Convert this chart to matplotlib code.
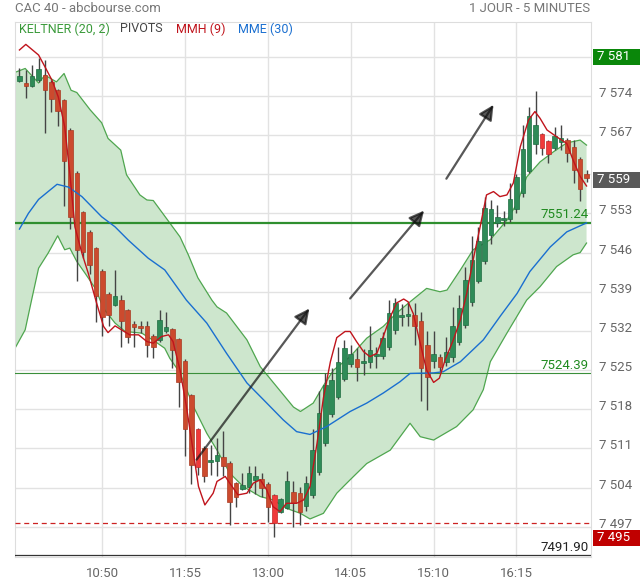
import matplotlib
matplotlib.use("Agg")
import matplotlib.pyplot as plt
from matplotlib.patches import Polygon, Rectangle
from matplotlib.transforms import blended_transform_factory, ScaledTranslation

plt.rcParams['font.family'] = ['Roboto', 'DejaVu Sans']

# Bougies Heikin-Ashi 5 minutes (index 0 = 9:45)
opens = [7576.7, 7576.3, 7575.8, 7576.8, 7577.8, 7576.5, 7575.0, 7573.25, 7567.9, 7560.2,
         7553.25, 7549.7, 7546.8, 7542.7, 7538.6, 7536.6, 7537.5, 7535.75, 7533.25, 7532.9,
         7532.9, 7531.1, 7530.3, 7531.9, 7532.3, 7530.5, 7526.7, 7520.5, 7514.45, 7511.05,
         7508.5, 7508.7, 7509.4, 7508.4, 7504.8, 7503.7, 7504.1, 7505.4, 7505.6, 7504.7,
         7502.6, 7499.7, 7500.3, 7503.2, 7503.1, 7500.8, 7502.7, 7506.7, 7512.0, 7517.2,
         7520.2, 7523.4, 7526.1, 7527.0, 7526.2, 7526.4, 7527.5, 7527.6, 7529.15, 7532.2,
         7534.55, 7534.6, 7534.85, 7533.8, 7529.55, 7526.6, 7527.25, 7526.4, 7527.35, 7530.05,
         7533.05, 7537.1, 7540.9, 7544.5, 7549.2, 7551.2, 7551.8, 7552.0, 7553.7, 7556.6,
         7560.5, 7565.4, 7567.1, 7565.9, 7564.75, 7565.8, 7566.15, 7564.9, 7562.8, 7560.05]
highs = [7578.9, 7578.7, 7579.5, 7580.7, 7580.4, 7576.8, 7575.3, 7573.5, 7568.2, 7560.5,
         7553.5, 7550.0, 7547.0, 7543.0, 7538.9, 7542.9, 7538.4, 7536.0, 7533.8, 7533.8,
         7533.8, 7531.4, 7535.75, 7535.4, 7532.5, 7530.7, 7527.0, 7520.8, 7514.7, 7511.5,
         7511.6, 7512.8, 7514.1, 7508.7, 7505.0, 7506.6, 7507.8, 7507.8, 7506.6, 7505.0,
         7502.8, 7502.2, 7506.9, 7505.1, 7504.1, 7506.0, 7514.5, 7521.2, 7524.5, 7525.3,
         7529.1, 7530.4, 7529.5, 7528.9, 7528.7, 7532.9, 7529.2, 7531.8, 7537.5, 7537.8,
         7536.8, 7537.2, 7537.0, 7535.4, 7531.9, 7532.05, 7527.9, 7531.0, 7536.3, 7538.4,
         7543.5, 7548.9, 7550.5, 7556.0, 7555.4, 7554.5, 7553.5, 7558.4, 7560.0, 7568.8,
         7572.0, 7574.9, 7567.3, 7566.1, 7568.4, 7568.8, 7566.4, 7566.1, 7563.0, 7560.75]
lows = [7576.5, 7573.7, 7575.6, 7576.4, 7567.3, 7571.1, 7568.7, 7554.4, 7550.2, 7540.9,
        7545.0, 7542.1, 7533.55, 7531.1, 7532.9, 7536.4, 7529.2, 7529.8, 7529.2, 7531.7,
        7527.4, 7527.1, 7530.0, 7531.7, 7525.3, 7518.4, 7509.7, 7504.7, 7506.2, 7505.0,
        7506.3, 7506.0, 7506.0, 7497.4, 7500.6, 7503.5, 7503.0, 7502.9, 7502.4, 7497.8,
        7495.2, 7499.5, 7500.1, 7497.05, 7497.4, 7499.8, 7502.2, 7506.2, 7511.5, 7516.7,
        7519.8, 7523.0, 7525.5, 7523.1, 7524.1, 7525.3, 7525.3, 7527.0, 7528.5, 7531.5,
        7532.8, 7532.8, 7529.5, 7519.4, 7517.8, 7525.3, 7524.7, 7525.8, 7526.5, 7529.5,
        7532.5, 7536.5, 7540.5, 7544.0, 7547.5, 7550.6, 7550.75, 7551.5, 7553.0, 7556.0,
        7560.3, 7563.7, 7563.4, 7562.0, 7564.3, 7564.3, 7562.1, 7558.4, 7555.3, 7558.6]
closes = [7577.6, 7575.7, 7577.5, 7578.8, 7575.1, 7573.4, 7571.3, 7562.4, 7552.4, 7546.5,
          7546.05, 7543.8, 7538.3, 7534.45, 7534.9, 7538.25, 7533.8, 7531.0, 7532.65, 7532.6,
          7529.5, 7529.1, 7534.0, 7532.65, 7528.5, 7522.9, 7514.4, 7508.1, 7507.7, 7506.0,
          7508.9, 7509.8, 7507.8, 7501.5, 7502.4, 7504.4, 7506.6, 7506.0, 7503.9, 7500.45,
          7497.7, 7502.0, 7505.2, 7501.2, 7499.6, 7504.8, 7510.75, 7517.35, 7522.4, 7523.2,
          7526.5, 7528.9, 7527.8, 7525.5, 7526.6, 7528.6, 7527.7, 7530.7, 7535.2, 7536.9,
          7534.7, 7535.1, 7532.8, 7525.3, 7523.7, 7527.9, 7525.6, 7528.3, 7532.8, 7536.05,
          7541.1, 7544.7, 7548.1, 7553.9, 7553.7, 7552.4, 7552.2, 7555.5, 7559.55, 7564.45,
          7570.4, 7568.8, 7564.6, 7563.6, 7566.8, 7566.5, 7563.8, 7560.75, 7557.3, 7559.3]
# bougies rouge vif
bright_red = [28, 40, 82, 83]

# Keltner (20, 2) : bandes
ku_x = [-0.7, 0.9, 3.0, 4.0, 5.8, 7.0, 8.1, 9.0, 11.1, 12.9, 13.9, 15.9, 16.8, 18.9, 20.0,
        21.0, 22.1, 25.2, 26.5, 28.0, 30.2, 31.0, 32.5, 34.1, 35.7, 37.8, 40.4, 43.0, 44.1,
        46.1, 47.7, 49.3, 51.9, 54.5, 57.1, 59.2, 61.3, 63.9, 66.0, 67.1, 69.2, 71.2, 73.9,
        76.5, 78.1, 79.6, 81.7, 83.8, 85.9, 88.0, 89.0]
ku_y = [7578.2, 7578.9, 7576.3, 7577.7, 7576.5, 7578.0, 7575.0, 7574.6, 7571.5, 7569.2,
        7566.4, 7564.3, 7559.9, 7556.3, 7555.4, 7555.3, 7553.6, 7548.8, 7545.6, 7541.5,
        7537.5, 7536.3, 7535.2, 7532.8, 7530.4, 7525.6, 7522.0, 7518.4, 7517.6, 7519.1,
        7522.2, 7525.0, 7527.4, 7530.7, 7532.8, 7535.2, 7537.2, 7539.6, 7539.0, 7539.3,
        7542.9, 7546.5, 7548.3, 7551.8, 7554.8, 7559.5, 7562.2, 7564.0, 7565.6, 7566.1,
        7565.2]
kl_x = [-0.7, 0.9, 1.9, 3.0, 4.5, 6.0, 7.1, 7.9, 9.0, 10.3, 11.9, 13.2, 15.0, 16.6, 19.2,
        21.3, 22.8, 23.6, 25.2, 27.3, 29.4, 31.0, 33.0, 35.1, 37.8, 39.8, 41.9, 44.1, 45.6,
        47.7, 49.8, 51.9, 54.5, 58.2, 61.3, 62.9, 65.0, 68.6, 71.2, 72.8, 73.9, 76.5, 79.6,
        81.7, 84.3, 86.9, 88.0, 89.0]
kl_y = [7528.9, 7532.2, 7537.5, 7543.2, 7545.9, 7549.0, 7546.5, 7546.8, 7544.4, 7542.3,
        7539.6, 7536.0, 7533.4, 7531.9, 7531.6, 7530.1, 7528.9, 7527.1, 7524.5, 7518.5,
        7513.7, 7510.7, 7506.6, 7504.2, 7502.4, 7501.8, 7500.3, 7499.4, 7498.4, 7499.4,
        7503.0, 7505.4, 7508.3, 7510.7, 7515.5, 7513.1, 7512.5, 7514.9, 7517.9, 7521.5,
        7526.5, 7531.6, 7537.5, 7539.9, 7543.5, 7545.6, 7546.0, 7547.7]

# MME (30)
mme_x = [0.0, 1.4, 3.0, 4.5, 5.9, 7.7, 9.8, 12.9, 15.0, 17.1, 20.2, 22.8, 26.2, 29.4, 32.5,
         35.7, 38.3, 41.4, 43.5, 45.6, 48.2, 51.9, 54.5, 57.1, 59.7, 61.3, 65.0, 66.5, 69.2,
         72.8, 75.5, 78.1, 80.1, 83.3, 85.9, 89.0]
mme_y = [7550.2, 7553.0, 7555.5, 7556.9, 7558.2, 7557.7, 7556.0, 7552.4, 7550.6, 7548.2,
         7545.0, 7542.9, 7537.5, 7533.4, 7528.0, 7522.7, 7519.7, 7516.1, 7514.0, 7513.5,
         7514.9, 7517.6, 7519.1, 7520.9, 7522.9, 7524.4, 7524.5, 7524.7, 7526.5, 7530.4,
         7534.7, 7538.7, 7542.6, 7547.0, 7549.7, 7551.3]

# MMH (9)
mmh_x = [0.0, 1.0, 3.0, 4.0, 5.1, 6.1, 7.1, 7.9, 8.7, 9.8, 10.8, 12.1, 13.2, 13.9, 15.0,
         16.0, 17.3, 18.7, 20.0, 21.0, 22.3, 23.4, 24.1, 25.2, 26.2, 27.0, 28.1, 29.1, 30.4,
         31.0, 32.3, 33.0, 34.3, 35.7, 36.7, 37.8, 38.8, 39.8, 40.9, 41.9, 43.5, 44.6, 45.6,
         46.7, 47.7, 48.8, 49.8, 51.1, 51.9, 52.9, 54.0, 55.0, 56.1, 57.1, 58.2, 59.2, 60.3,
         61.0, 61.8, 62.9, 63.9, 65.0, 65.9, 66.8, 68.1, 69.2, 70.2, 71.2, 72.3, 73.3, 74.4,
         75.4, 76.5, 77.5, 78.6, 79.9, 80.9, 81.7, 82.8, 84.3, 85.9, 86.9, 88.0, 89.0]
mmh_y = [7582.2, 7583.2, 7581.3, 7579.2, 7576.8, 7573.8, 7568.5, 7560.2, 7550.6, 7545.9,
         7542.3, 7537.0, 7532.8, 7531.7, 7532.9, 7532.2, 7531.3, 7531.3, 7530.1, 7529.8,
         7531.0, 7531.3, 7530.1, 7525.0, 7518.5, 7512.5, 7504.2, 7500.9, 7503.0, 7505.1,
         7506.0, 7504.8, 7502.7, 7503.0, 7504.8, 7505.4, 7503.6, 7500.6, 7499.7, 7501.2,
         7501.2, 7501.8, 7504.2, 7511.9, 7520.0, 7526.5, 7530.8, 7531.9, 7531.9, 7530.1,
         7528.3, 7527.4, 7528.0, 7531.0, 7534.5, 7537.0, 7537.7, 7537.2, 7535.1, 7529.8,
         7525.0, 7522.8, 7523.55, 7526.8, 7530.4, 7534.0, 7538.7, 7544.7, 7550.6, 7556.3,
         7556.9, 7556.0, 7556.3, 7558.4, 7564.9, 7569.7, 7571.2, 7570.0, 7567.9, 7566.7,
         7565.5, 7562.5, 7559.6, 7557.9]

# Pivots et niveaux
pivot_main = 7551.24
pivot_second = 7524.39
pivot_low = 7491.90
dashed_level = 7497.7
day_high = 7581
day_low = 7495
last_price = 7559

# Flèches (début, fin) en (index, cours)
arrows = [((27.8, 7509.0), (45.5, 7536.0)),
          ((51.9, 7537.8), (63.5, 7553.5)),
          ((67.0, 7559.2), (74.4, 7572.4))]

tick_idx = [13, 26, 39, 52, 65, 78]
tick_labels = ['10:50', '11:55', '13:00', '14:05', '15:10', '16:15']
y_ticks = list(range(7497, 7582, 7))
hidden_ticks = [7560, 7581]  # recouverts par les étiquettes de prix

GREEN = '#2e8b57'
RED = '#cc4a2e'
BRIGHT = '#f03a3a'

fig = plt.figure(figsize=(6.4, 5.8), dpi=100)
ax = fig.add_axes([15 / 640, 23 / 580, 576 / 640, 535 / 580])
ax.set_xlim(-0.7, 89.7)
ax.set_ylim(7491.6, 7587.2)

for s in ax.spines.values():
    s.set_color('#dddddd')
ax.set_xticks(tick_idx)
ax.set_xticklabels(tick_labels)
ax.set_yticks(y_ticks)
ax.set_yticklabels(['' if v in hidden_ticks else '{} {:03d}'.format(v // 1000, v % 1000)
                    for v in y_ticks])
ax.yaxis.tick_right()
ax.tick_params(length=0, colors='#666666', labelsize=9.5)
ax.tick_params(axis='x', pad=7)
ax.tick_params(axis='y', pad=6)
# les libellés de prix sont un peu au-dessus des lignes
up = ScaledTranslation(0, 0.04, fig.dpi_scale_trans)
for lab in ax.get_yticklabels():
    lab.set_transform(lab.get_transform() + up)
ax.grid(True, color='#e2e2e2', linewidth=1)
ax.set_axisbelow(True)

# Bande de Keltner
poly = list(zip(ku_x, ku_y)) + list(zip(kl_x[::-1], kl_y[::-1]))
ax.add_patch(Polygon(poly, closed=True, facecolor='#cde6cd', edgecolor='none', zorder=1))
ax.plot(ku_x, ku_y, color='#4fa64f', linewidth=0.9, zorder=2)
ax.plot(kl_x, kl_y, color='#4fa64f', linewidth=0.9, zorder=2)
ax.plot([ku_x[0], kl_x[0]], [ku_y[0], kl_y[0]], color='#7fbf7f', linewidth=1.2, zorder=2)

# Niveaux
ax.axhline(pivot_main, color='#2f8f2f', linewidth=1.6, zorder=3)
ax.axhline(pivot_second, color='#3a8f3a', linewidth=0.8, zorder=3)
ax.axhline(pivot_low, color='#333333', linewidth=0.9, zorder=3)
ax.axhline(dashed_level, color='#cc2222', linewidth=0.9, linestyle=(0, (4, 3)), zorder=3)
ax.text(89.3, pivot_main + 0.4, '{:.2f}'.format(pivot_main), color='#1f8a1f',
        fontsize=9.5, ha='right', va='bottom', zorder=6)
ax.text(89.3, pivot_second + 0.3, '{:.2f}'.format(pivot_second), color='#1f8a1f',
        fontsize=9.5, ha='right', va='bottom', zorder=6)
ax.text(89.3, pivot_low + 0.3, '{:.2f}'.format(pivot_low), color='#222222',
        fontsize=9.5, ha='right', va='bottom', zorder=6)

# Bougies
for i in range(len(opens)):
    o, h, l, c = opens[i], highs[i], lows[i], closes[i]
    if c >= o:
        col, edge = GREEN, '#1d6b40'
    elif i in bright_red:
        col, edge = BRIGHT, '#c02a2a'
    else:
        col, edge = RED, '#a83a22'
    ax.vlines(i, l, h, color='#444444', linewidth=1, zorder=4)
    bottom = min(o, c)
    height = max(abs(c - o), 0.3)
    ax.bar(i, height, bottom=bottom, width=0.72, color=col,
           edgecolor=edge, linewidth=0.5, zorder=5)

# Moyennes
ax.plot(mme_x, mme_y, color='#1a6fd0', linewidth=1.0, zorder=6)
ax.plot(mmh_x, mmh_y, color='#c0141c', linewidth=1.0, zorder=7)

# Flèches
for start, end in arrows:
    ax.annotate('', xy=end, xytext=start,
                arrowprops=dict(arrowstyle='-|>,head_length=0.9,head_width=0.45',
                                color='#111111', linewidth=1.6, alpha=0.7,
                                shrinkA=0, shrinkB=0), zorder=8)

# Étiquettes de droite
tr = blended_transform_factory(ax.transAxes, ax.transData)
for val, fc in [(day_high, '#0a870a'), (last_price, '#5a5a5a'), (day_low, '#c00000')]:
    ax.add_patch(Rectangle((1.004, val - 1.45), 0.09, 2.9, transform=tr, clip_on=False,
                           facecolor=fc, edgecolor='none', zorder=9))
    ax.text(1.011, val, '{} {:03d}'.format(val // 1000, val % 1000), transform=tr,
            color='white', fontsize=9.5, va='center', ha='left', zorder=10)

# En-tête
fig.text(15 / 640, 1 - 9 / 580, 'CAC 40 - abcbourse.com', color='#777777', fontsize=9.5,
         va='center', ha='left')
fig.text(590 / 640, 1 - 9 / 580, '1 JOUR - 5 MINUTES', color='#777777', fontsize=9.5,
         va='center', ha='right')
legend = [('KELTNER (20, 2)', '#3a9a3a', 19), ('PIVOTS', '#444444', 120),
          ('MMH (9)', '#c0141c', 176), ('MME (30)', '#1a6fd0', 238)]
for txt, col, px in legend:
    fig.text(px / 640, 1 - 29 / 580, txt, color=col, fontsize=9, va='center', ha='left')

fig.savefig('out.png', dpi=100)
